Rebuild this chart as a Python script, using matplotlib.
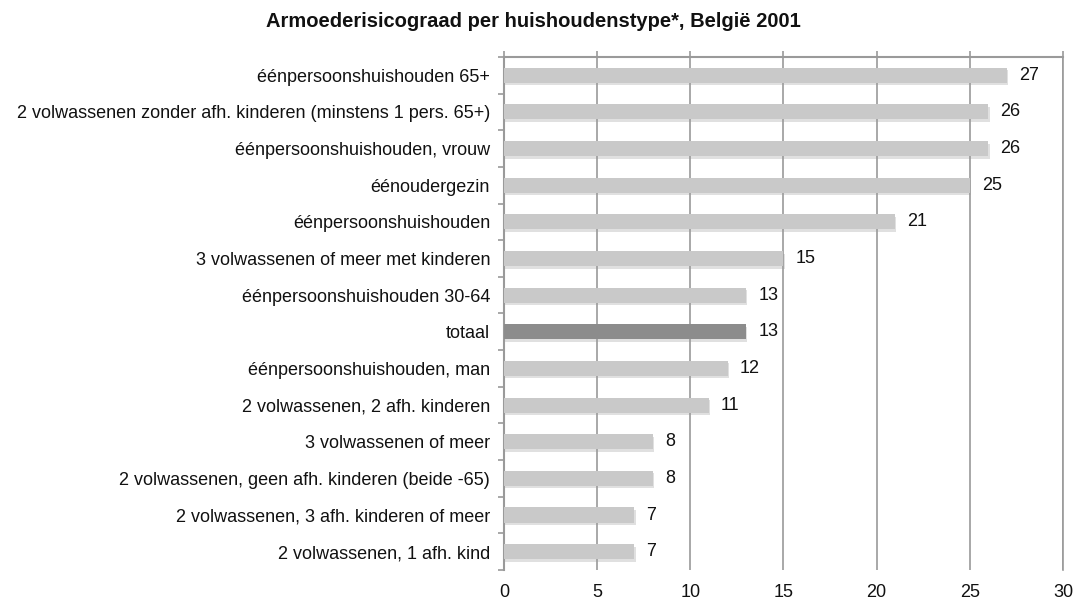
import matplotlib
matplotlib.use("Agg")
import matplotlib.pyplot as plt
import matplotlib.patheffects as pe

# Armoederisicograad per huishoudenstype, top to bottom
categories = [
    "éénpersoonshuishouden 65+",
    "2 volwassenen zonder afh. kinderen (minstens 1 pers. 65+)",
    "éénpersoonshuishouden, vrouw",
    "éénoudergezin",
    "éénpersoonshuishouden",
    "3 volwassenen of meer met kinderen",
    "éénpersoonshuishouden 30-64",
    "totaal",
    "éénpersoonshuishouden, man",
    "2 volwassenen, 2 afh. kinderen",
    "3 volwassenen of meer",
    "2 volwassenen, geen afh. kinderen (beide -65)",
    "2 volwassenen, 3 afh. kinderen of meer",
    "2 volwassenen, 1 afh. kind",
]
values = [27, 26, 26, 25, 21, 15, 13, 13, 12, 11, 8, 8, 7, 7]
highlight = "totaal"
x_ticks = [0, 5, 10, 15, 20, 25, 30]

plt.rcParams["font.family"] = ["Liberation Sans", "DejaVu Sans"]

fig = plt.figure(figsize=(10.76, 6.05), dpi=100)
ax = fig.add_axes([0.4684, 0.0579, 0.5195, 0.8479])

grid_col = "#9a9a9a"
txt_col = "#111111"
pos = list(range(len(categories)))
colors = ["#8c8c8c" if c == highlight else "#c9c9c9" for c in categories]

bars = ax.barh(pos, values, height=0.41, color=colors, zorder=3)
for b in bars:
    b.set_path_effects([
        pe.SimplePatchShadow(offset=(0.8, -1.8), shadow_rgbFace="#9a9a9a", alpha=0.3),
        pe.Normal(),
    ])

for y, v in zip(pos, values):
    ax.text(v + 0.65, y, str(v), va="center", ha="left", fontsize=13, color=txt_col)

ax.set_ylim(len(categories) - 0.5, -0.5)
ax.set_xlim(0, 30)
ax.set_yticks(pos)
ax.set_yticklabels(categories, fontsize=13, color=txt_col)
ax.set_yticks([p + 0.5 for p in range(-1, len(categories))], minor=True)
ax.tick_params(axis="y", which="major", length=0, pad=10)
ax.tick_params(axis="y", which="minor", length=4, color=grid_col, width=1.2, direction="out")

ax.set_xticks(x_ticks)
ax.set_xticklabels([str(t) for t in x_ticks], fontsize=13, color=txt_col)
ax.tick_params(axis="x", which="major", bottom=False, top=True, length=4,
               color=grid_col, width=1.2, pad=6)
ax.grid(axis="x", color=grid_col, linewidth=1.2, zorder=0)

for side in ["top", "left"]:
    ax.spines[side].set_color(grid_col)
    ax.spines[side].set_linewidth(1.5)
ax.spines["bottom"].set_visible(False)
ax.spines["right"].set_color(grid_col)
ax.spines["right"].set_linewidth(1.2)

fig.text(0.496, 0.965, "Armoederisicograad per huishoudenstype*, België 2001",
         ha="center", va="center", fontsize=14.5, fontweight="bold", color=txt_col)

fig.savefig("out.png", dpi=100, facecolor="white")
